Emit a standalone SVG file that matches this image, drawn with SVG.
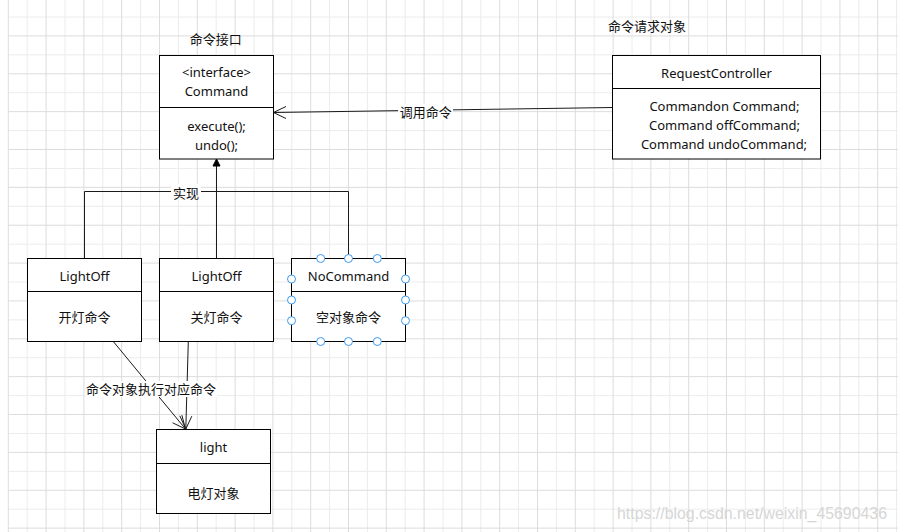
<svg xmlns="http://www.w3.org/2000/svg" width="898" height="532" viewBox="0 0 898 532">
<style>
text{font-family:"Noto Sans","Noto Sans CJK SC",sans-serif;font-size:13px;fill:#111;text-anchor:middle}
.box{fill:#fff;stroke:#000;stroke-width:1}
.div{stroke:#000;stroke-width:1;fill:none}
.conn{stroke:#1a1a1a;stroke-width:1;fill:none}
.lbl{fill:#fff}
.h{fill:#fff;stroke:#3d9bf2;stroke-width:1}
.gl{stroke:#ececec;stroke-width:1;fill:none}
.gd{stroke:#dcdcdc;stroke-width:1;fill:none}
.wm{font-family:"Liberation Sans",Arial,sans-serif;font-size:16px;fill:#d6d6d6;text-anchor:start}
</style>
<rect width="898" height="532" fill="#fff"/>
<g id="grid">
<path class="gl" d="M8.3,17H898M8.3,54.86H898M8.3,92.72H898M8.3,130.58H898M8.3,168.44H898M8.3,206.3H898M8.3,244.16H898M8.3,282.02H898M8.3,319.88H898M8.3,357.74H898M8.3,395.6H898M8.3,433.46H898M8.3,471.32H898M8.3,509.18H898
M27.2,0V532M65,0V532M102.8,0V532M140.6,0V532M178.4,0V532M216.2,0V532M254,0V532M291.8,0V532M329.6,0V532M367.4,0V532M405.2,0V532M443,0V532M480.8,0V532M518.6,0V532M556.4,0V532M594.2,0V532M632,0V532M669.8,0V532M707.6,0V532M745.4,0V532M783.2,0V532M821,0V532M858.8,0V532M896.6,0V532"/>
<path class="gd" d="M8.3,35.93H898M8.3,73.79H898M8.3,111.65H898M8.3,149.51H898M8.3,187.37H898M8.3,225.23H898M8.3,263.09H898M8.3,300.95H898M8.3,338.81H898M8.3,376.67H898M8.3,414.53H898M8.3,452.39H898M8.3,490.25H898M8.3,528.11H898
M8.3,0V532M46.1,0V532M83.9,0V532M121.7,0V532M159.5,0V532M197.3,0V532M235.1,0V532M272.9,0V532M310.7,0V532M348.5,0V532M386.3,0V532M424.1,0V532M461.9,0V532M499.7,0V532M537.5,0V532M575.3,0V532M613.1,0V532M650.9,0V532M688.7,0V532M726.5,0V532M764.3,0V532M802.1,0V532M839.9,0V532M877.7,0V532"/>
</g>
<text class="wm" x="617" y="519" textLength="270" lengthAdjust="spacingAndGlyphs">https://blog.csdn.net/weixin_45690436</text>

<g id="connectors">
<path class="conn" d="M612.5,107.5L273.5,112.5M286,106.5L273.5,112.5L286,118.5"/>
<path class="conn" d="M84.5,258V191.5H348.5V258"/>
<path class="conn" d="M216.5,258V165"/>
<polygon points="216.5,159 213,166 220,166" fill="#000" stroke="#000" stroke-width="1"/>
<path class="conn" d="M113.3,341.5L185.5,429M172.6,422.8L185.5,429L181.85,415.15"/>
<path class="conn" d="M188.3,341.5L185.8,429M179.8,415.8L185.8,429L191.8,416.2"/>
<rect class="lbl" x="398" y="104" width="55" height="16"/>
<text x="425.7" y="117">调用命令</text>
<rect class="lbl" x="171" y="184" width="30" height="16"/>
<text x="186" y="197.5">实现</text>
<rect class="lbl" x="85" y="381" width="132" height="16"/>
<text x="151" y="394">命令对象执行对应命令</text>
</g>

<g id="label-interface">
<text x="215.7" y="44">命令接口</text>
</g>
<g id="label-request">
<text x="647" y="31">命令请求对象</text>
</g>

<g id="command">
<rect class="box" x="159.5" y="55.5" width="114" height="103.5"/>
<path class="div" d="M159.5,107.5H273.5"/>
<text x="216.5" y="77">&lt;interface&gt;</text>
<text x="216.5" y="96">Command</text>
<text x="216.5" y="130.5">execute();</text>
<text x="216.5" y="149.5">undo();</text>
</g>

<g id="request-controller">
<rect class="box" x="612.5" y="55.5" width="208" height="103.5"/>
<path class="div" d="M612.5,88.5H820.5"/>
<text x="716.5" y="78">RequestController</text>
<text x="724.5" y="111">Commandon Command;</text>
<text x="724.5" y="130">Command offCommand;</text>
<text x="724" y="149">Command undoCommand;</text>
</g>

<g id="lightoff-on">
<rect class="box" x="27.5" y="258.5" width="114" height="83"/>
<path class="div" d="M27.5,291.5H141.5"/>
<text x="84.5" y="281">LightOff</text>
<text x="84.5" y="322">开灯命令</text>
</g>

<g id="lightoff-off">
<rect class="box" x="159.5" y="258.5" width="114" height="83"/>
<path class="div" d="M159.5,291.5H273.5"/>
<text x="216.5" y="281">LightOff</text>
<text x="216.5" y="322">关灯命令</text>
</g>

<g id="nocommand">
<rect class="box" x="291.5" y="258.5" width="114" height="83"/>
<path class="div" d="M291.5,291.5H405.5"/>
<text x="348.5" y="281">NoCommand</text>
<text x="348.5" y="322">空对象命令</text>
<circle class="h" cx="320.7" cy="258.5" r="4"/>
<circle class="h" cx="348.5" cy="258.5" r="4"/>
<circle class="h" cx="377.3" cy="258.5" r="4"/>
<circle class="h" cx="320.7" cy="341.5" r="4"/>
<circle class="h" cx="348.5" cy="341.5" r="4"/>
<circle class="h" cx="377.3" cy="341.5" r="4"/>
<circle class="h" cx="291.5" cy="279" r="4"/>
<circle class="h" cx="291.5" cy="300" r="4"/>
<circle class="h" cx="291.5" cy="320.7" r="4"/>
<circle class="h" cx="405.5" cy="279" r="4"/>
<circle class="h" cx="405.5" cy="300" r="4"/>
<circle class="h" cx="405.5" cy="320.7" r="4"/>
</g>

<g id="light">
<rect class="box" x="156.5" y="429.5" width="114" height="84"/>
<path class="div" d="M156.5,463.5H270.5"/>
<text x="213.5" y="452">light</text>
<text x="213.5" y="498">电灯对象</text>
</g>
</svg>
